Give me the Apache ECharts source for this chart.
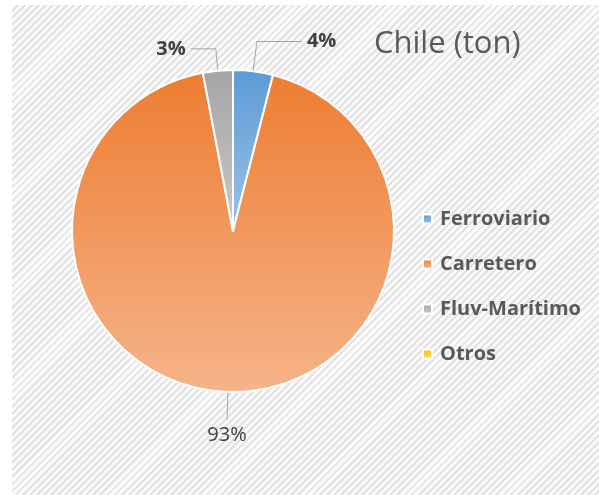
<!DOCTYPE html>
<html>
<head>
<meta charset="utf-8">
<script src="https://cdn.jsdelivr.net/npm/echarts@6/dist/echarts.min.js"></script>
<style>
  html, body { margin: 0; padding: 0; background: #fff; }
  #wrap { position: relative; width: 599px; height: 495px; overflow: hidden; }
  #bg {
    position: absolute; left: 12px; top: 5px; right: 0; bottom: 0;
    background: repeating-linear-gradient(135deg, #fafafa 0 3px, #e2e2e2 3px 5px);
  }
  #chart { position: absolute; left: 0; top: 0; width: 599px; height: 495px; }
</style>
</head>
<body>
<div id="wrap">
  <div id="bg"></div>
  <div id="chart"></div>
</div>
<script>
// datos del grafico
var categories = ["Ferroviario", "Carretero", "Fluv-Marítimo", "Otros"];
var values = [4, 93, 3, 0];
// colores (arriba -> abajo del degradado)
var topColors = ["#5B9BD5", "#ED7D31", "#A5A5A5", "#FFC000"];
var bottomColors = ["#9DC3E6", "#F5B48A", "#C9C9C9", "#FFD966"];

// largo de las lineas guia por porción
var lineLen = [30, 28, 22, 10];
var lineLen2 = [45, 0, 25, 10];

var chart = echarts.init(document.getElementById("chart"));

var pieData = categories.map(function (name, i) {
  return {
    name: name,
    value: values[i],
    itemStyle: {
      color: new echarts.graphic.LinearGradient(0, 0, 0, 1, [
        { offset: 0, color: topColors[i] },
        { offset: 1, color: bottomColors[i] },
      ]),
    },
    label: { show: values[i] > 0, fontWeight: i === 1 ? "normal" : "bold" },
    labelLine: { show: values[i] > 0, length: lineLen[i], length2: lineLen2[i] },
  };
});

var option = {
  backgroundColor: "transparent",
  animation: false,
  title: {
    text: "Chile (ton)",
    left: 369,
    top: 24,
    textStyle: {
      fontFamily: "Open Sans",
      fontSize: 31,
      fontWeight: "normal",
      color: "#595959",
    },
  },
  legend: {
    orient: "vertical",
    left: 417,
    top: 204,
    itemWidth: 9,
    itemHeight: 9,
    itemGap: 25,
    icon: "rect",
    data: categories,
    textStyle: {
      fontFamily: "Open Sans",
      fontSize: 20,
      fontWeight: "bold",
      color: "#595959",
      padding: [0, 0, 0, 3],
    },
  },
  series: [
    {
      type: "pie",
      center: [233, 231],
      radius: 161,
      startAngle: 90,
      clockwise: true,
      avoidLabelOverlap: false,
      legendHoverLink: false,
      itemStyle: { borderColor: "#ffffff", borderWidth: 2 },
      label: {
        position: "outside",
        fontFamily: "Open Sans",
        fontSize: 20,
        fontWeight: "bold",
        color: "#404040",
        formatter: function (p) {
          return p.value + "%";
        },
      },
      labelLine: { lineStyle: { color: "#A6A6A6", width: 1 } },
      labelLayout: function (p) {
        // la porcion grande: texto centrado bajo la linea vertical
        if (p.dataIndex === 1 && p.labelLinePoints) {
          var pts = p.labelLinePoints;
          return {
            x: pts[1][0],
            y: pts[1][1] + 5,
            align: "center",
            verticalAlign: "top",
            labelLinePoints: [pts[0], pts[1], pts[1]],
          };
        }
        return {};
      },
      data: pieData,
    },
  ],
};

chart.setOption(option);
</script>
</body>
</html>
